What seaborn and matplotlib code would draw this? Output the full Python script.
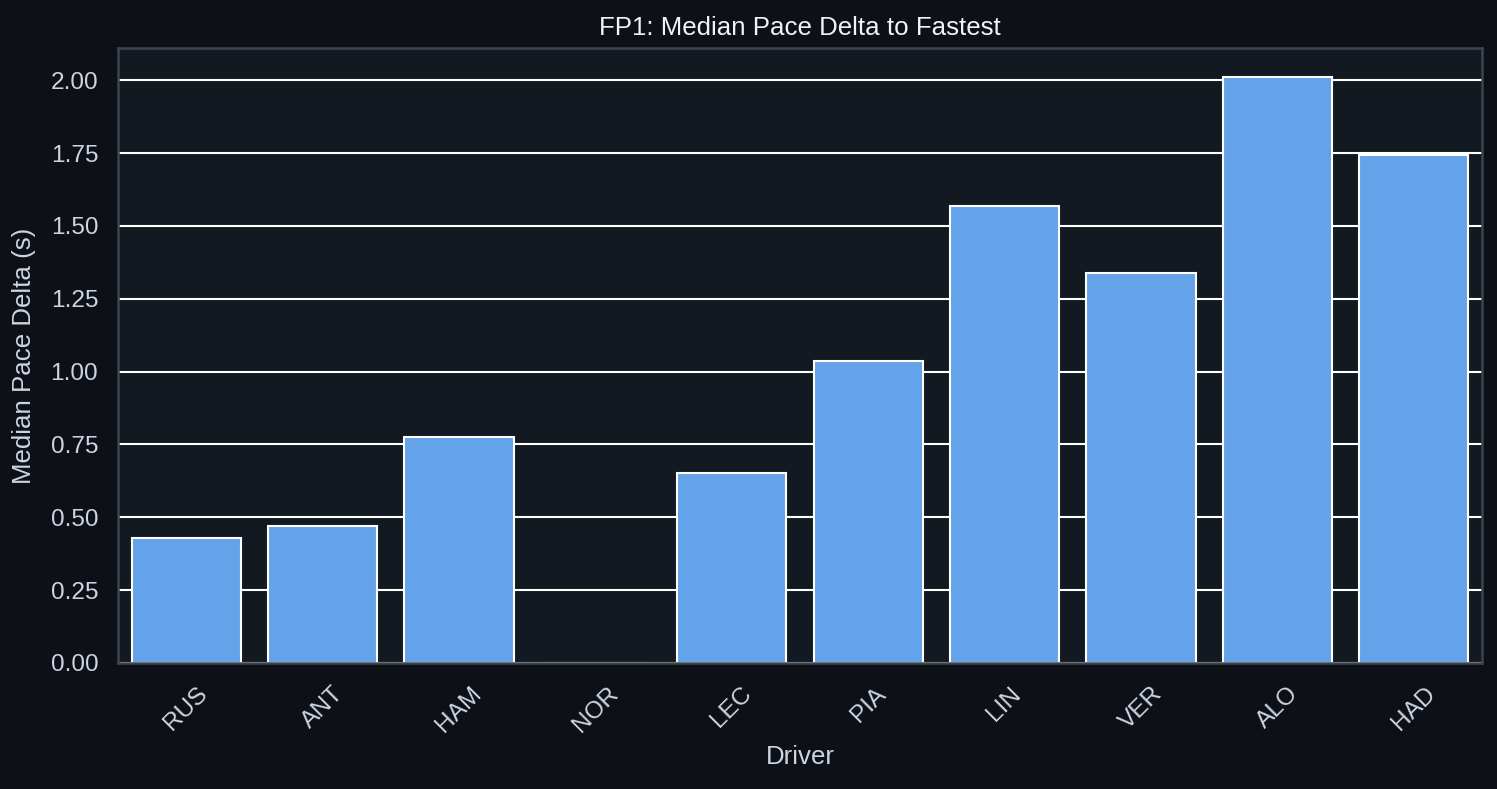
import matplotlib
matplotlib.use("Agg")
import matplotlib.pyplot as plt
import seaborn as sns
import pandas as pd

drivers = ["RUS", "ANT", "HAM", "NOR", "LEC", "PIA", "LIN", "VER", "ALO", "HAD"]
pace_delta = [0.429, 0.470, 0.775, 0.0, 0.652, 1.036, 1.568, 1.338, 2.010, 1.743]

FIG_BG = "#0d1117"
AX_BG = "#131920"
TEXT = "#cdd5e0"
SPINE = "#3d444d"
BAR = "#64a3e9"

sns.set_theme(context="notebook", style="darkgrid")
plt.rcParams["font.family"] = ["Liberation Sans", "DejaVu Sans"]

df = pd.DataFrame({"Driver": drivers, "Delta": pace_delta})

fig = plt.figure(figsize=(9.98, 5.26), dpi=150, facecolor=FIG_BG)
ax = fig.add_axes([0.0788, 0.1597, 0.9112, 0.7795])
ax.set_facecolor(AX_BG)

sns.barplot(data=df, x="Driver", y="Delta", color=BAR, saturation=1,
            edgecolor="white", linewidth=1.0, ax=ax)

ax.grid(axis="y", color="white", linewidth=1.0)
ax.grid(axis="x", visible=False)
ax.set_axisbelow(True)
for s in ax.spines.values():
    s.set_visible(True)
    s.set_color(SPINE)
    s.set_linewidth(1.2)
    s.set_zorder(5)

yt = [0, 0.25, 0.5, 0.75, 1.0, 1.25, 1.5, 1.75, 2.0]
ax.set_yticks(yt)
ax.set_yticklabels([f"{v:.2f}" for v in yt])
ax.set_ylim(0, 2.1105)
ax.tick_params(colors=TEXT, labelsize=11.7)
plt.setp(ax.get_xticklabels(), rotation=45)

ax.set_xlabel("Driver", color=TEXT, fontsize=12.4)
ax.set_ylabel("Median Pace Delta (s)", color=TEXT, fontsize=12.4, labelpad=7)
ax.set_title("FP1: Median Pace Delta to Fastest", color="#f0f3f6", fontsize=12.4)

fig.savefig("out.png", dpi=150, facecolor=FIG_BG)
